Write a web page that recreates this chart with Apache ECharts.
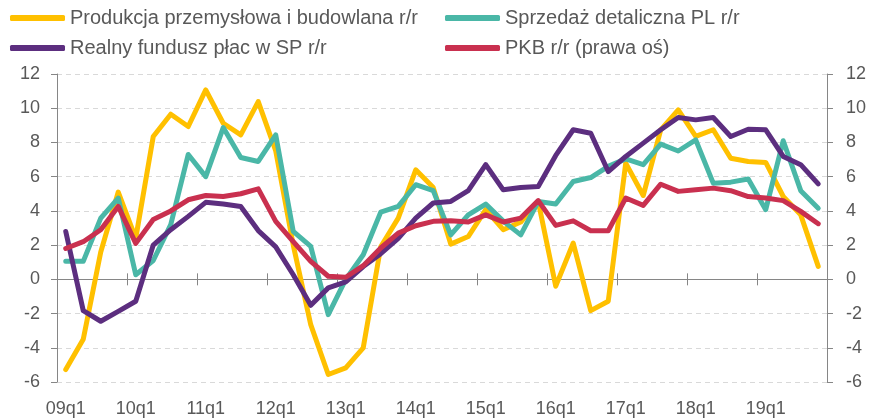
<!DOCTYPE html>
<html>
<head>
<meta charset="utf-8">
<script src="https://cdn.jsdelivr.net/npm/echarts@6/dist/echarts.min.js"></script>
<style>
	html, body { margin: 0; padding: 0; background: #fff; }
	#myChart { width: 869px; height: 418px; }
</style>
</head>
<body>
<div id="myChart"></div>
<script type="text/javascript">
	var categories = [
		'09q1', '09q2', '09q3', '09q4', '10q1', '10q2', '10q3', '10q4',
		'11q1', '11q2', '11q3', '11q4', '12q1', '12q2', '12q3', '12q4',
		'13q1', '13q2', '13q3', '13q4', '14q1', '14q2', '14q3', '14q4',
		'15q1', '15q2', '15q3', '15q4', '16q1', '16q2', '16q3', '16q4',
		'17q1', '17q2', '17q3', '17q4', '18q1', '18q2', '18q3', '18q4',
		'19q1', '19q2', '19q3', '19q4'
	];
	var produkcja = [-5.27, -3.5, 1.6, 5.1, 2.4, 8.35, 9.65, 8.93, 11.07, 9.12, 8.44, 10.39, 7.5, 2.0, -2.65, -5.56, -5.17, -4.0, 1.9, 3.58, 6.4, 5.36, 2.06, 2.5, 4.07, 2.9, 3.35, 4.55, -0.4, 2.12, -1.83, -1.28, 6.79, 4.9, 8.74, 9.9, 8.35, 8.74, 7.08, 6.89, 6.83, 4.84, 3.77, 0.76];
	var sprzedaz = [1.05, 1.05, 3.58, 4.75, 0.27, 1.1, 3.2, 7.3, 6.0, 8.87, 7.12, 6.89, 8.44, 2.8, 1.93, -2.06, 0.0, 1.44, 3.93, 4.26, 5.53, 5.18, 2.6, 3.77, 4.4, 3.4, 2.6, 4.55, 4.4, 5.72, 5.95, 6.6, 7.04, 6.7, 7.9, 7.5, 8.15, 5.62, 5.68, 5.86, 4.07, 8.1, 5.18, 4.16];
	var fundusz = [2.8, -1.83, -2.45, -1.87, -1.28, 2.0, 2.9, 3.68, 4.5, 4.4, 4.26, 2.85, 1.9, 0.27, -1.52, -0.5, -0.15, 0.75, 1.5, 2.4, 3.58, 4.46, 4.55, 5.18, 6.7, 5.23, 5.37, 5.43, 7.24, 8.74, 8.54, 6.3, 7.18, 7.96, 8.74, 9.46, 9.32, 9.46, 8.35, 8.77, 8.74, 7.18, 6.7, 5.58];
	var pkb = [1.8, 2.2, 2.9, 4.26, 2.1, 3.5, 4.0, 4.65, 4.9, 4.84, 5.0, 5.29, 3.39, 2.2, 1.05, 0.18, 0.12, 0.8, 1.83, 2.7, 3.13, 3.39, 3.42, 3.35, 3.77, 3.35, 3.58, 4.6, 3.15, 3.42, 2.84, 2.84, 4.75, 4.32, 5.56, 5.14, 5.23, 5.33, 5.18, 4.84, 4.75, 4.6, 3.97, 3.25];
	var names = ['Produkcja przemysłowa i budowlana r/r', 'Sprzedaż detaliczna PL r/r', 'Realny fundusz płac w SP r/r', 'PKB r/r (prawa oś)'];
	var colors = ['#FFC000', '#4AB7A7', '#5C2E7F', '#C9304F'];

	var font = "'Liberation Sans Narrow', 'Arial Narrow', sans-serif";
	var txt = '#595959';
	var axisGray = '#868686';

	function legendAt(name, left, top) {
		return {
			data: [name], left: left, top: top, padding: 0,
			icon: 'roundRect', itemWidth: 55, itemHeight: 6,
			textStyle: { fontFamily: font, fontSize: 20, color: txt }
		};
	}

	function lineSeries(i, data, yIdx) {
		return {
			name: names[i], type: 'line', data: data, yAxisIndex: yIdx,
			symbol: 'none', smooth: false, color: colors[i],
			lineStyle: { width: 5, color: colors[i], join: 'round', cap: 'round' }
		};
	}

	var yCommon = {
		type: 'value', min: -6, max: 12, interval: 2,
		axisLine: { show: true, lineStyle: { color: axisGray } },
		axisTick: { show: true, length: 6, lineStyle: { color: axisGray } },
		axisLabel: { fontFamily: font, fontSize: 18, color: txt }
	};

	var myChart = echarts.init(document.getElementById('myChart'));
	var option = {
		animation: false,
		legend: [
			legendAt(names[0], 10, 8),
			legendAt(names[1], 445, 8),
			legendAt(names[2], 10, 38),
			legendAt(names[3], 445, 38)
		],
		grid: { left: 57, right: 36, top: 74, bottom: 36 },
		xAxis: [
			{
				type: 'category', data: categories, boundaryGap: true,
				axisLine: { show: false, onZero: false },
				axisTick: { show: false },
				axisLabel: { interval: 3, margin: 18, fontFamily: font, fontSize: 18, color: txt }
			},
			{
				type: 'category', data: categories, boundaryGap: true, position: 'bottom',
				axisLine: { show: true, onZero: true, lineStyle: { color: axisGray } },
				axisTick: { show: true, interval: 3, length: 6, lineStyle: { color: axisGray } },
				axisLabel: { show: false }
			},
			{
				type: 'category', data: categories, boundaryGap: true, position: 'bottom',
				axisLine: { show: false, onZero: true },
				axisTick: { show: true, inside: true, interval: 3, length: 6, lineStyle: { color: axisGray } },
				axisLabel: { show: false }
			}
		],
		yAxis: [
			Object.assign({}, yCommon, {
				position: 'left',
				axisLabel: { fontFamily: font, fontSize: 18, color: txt, margin: 17 },
				splitLine: { show: true, lineStyle: { color: '#D9D9D9', type: [5, 4] } }
			}),
			Object.assign({}, yCommon, {
				position: 'right',
				axisLabel: { fontFamily: font, fontSize: 18, color: txt, margin: 19 },
				splitLine: { show: false }
			})
		],
		series: [
			lineSeries(0, produkcja, 0),
			lineSeries(1, sprzedaz, 0),
			lineSeries(2, fundusz, 0),
			lineSeries(3, pkb, 1)
		]
	};
	myChart.setOption(option);
</script>
</body>
</html>
